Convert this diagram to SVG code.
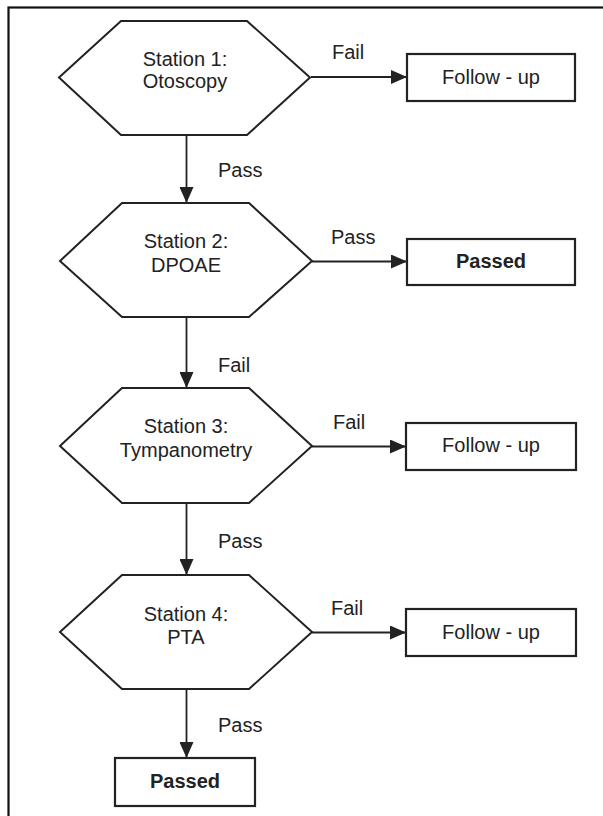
<svg xmlns="http://www.w3.org/2000/svg" width="603" height="816" viewBox="0 0 603 816">
<style>
.t{font-family:"Liberation Sans",Arial,sans-serif;font-size:20px;fill:#222}
.c{text-anchor:middle}
.b{font-weight:bold}
.hex{fill:#fff;stroke:#222;stroke-width:2}
.box{fill:#fff;stroke:#222;stroke-width:2.2}
.ln{fill:none;stroke:#222;stroke-width:1.8}
</style>
<defs>
<marker id="ah" markerUnits="userSpaceOnUse" markerWidth="16" markerHeight="14" refX="16" refY="7" orient="auto">
<path d="M0,0 L16,7 L0,14 Z" fill="#222"/>
</marker>
</defs>
<rect x="0" y="0" width="603" height="816" fill="#fff"/>
<rect id="frame" x="8.5" y="7.5" width="700" height="900" fill="none" stroke="#111" stroke-width="2.2"/>
<g id="connectors">
<line class="ln" x1="186.5" y1="135" x2="186.5" y2="203" marker-end="url(#ah)"/>
<line class="ln" x1="186.5" y1="317" x2="186.5" y2="388" marker-end="url(#ah)"/>
<line class="ln" x1="186.5" y1="503" x2="186.5" y2="575" marker-end="url(#ah)"/>
<line class="ln" x1="186.5" y1="689" x2="186.5" y2="758" marker-end="url(#ah)"/>
<line class="ln" x1="311" y1="77" x2="407" y2="77" marker-end="url(#ah)"/>
<line class="ln" x1="312" y1="261.5" x2="407" y2="261.5" marker-end="url(#ah)"/>
<line class="ln" x1="312" y1="446.5" x2="406" y2="446.5" marker-end="url(#ah)"/>
<line class="ln" x1="312" y1="632.5" x2="406" y2="632.5" marker-end="url(#ah)"/>
<text class="t" x="218" y="177">Pass</text>
<text class="t" x="218" y="372">Fail</text>
<text class="t" x="218" y="548">Pass</text>
<text class="t" x="218" y="732">Pass</text>
<text class="t" x="332" y="59">Fail</text>
<text class="t" x="331" y="244">Pass</text>
<text class="t" x="333" y="429">Fail</text>
<text class="t" x="331" y="615">Fail</text>
</g>
<g id="station1">
<polygon class="hex" points="59,77.5 121,21 247,21 310,77.5 247,135 121,135"/>
<text class="t c" x="185" y="66">Station 1:</text>
<text class="t c" x="185" y="88">Otoscopy</text>
</g>
<g id="station2">
<polygon class="hex" points="60,261 122,203 249,203 312,261 249,317 122,317"/>
<text class="t c" x="186" y="248">Station 2:</text>
<text class="t c" x="186" y="272">DPOAE</text>
</g>
<g id="station3">
<polygon class="hex" points="60,446 122,388 249,388 312,446 249,503 122,503"/>
<text class="t c" x="186" y="433">Station 3:</text>
<text class="t c" x="186" y="457">Tympanometry</text>
</g>
<g id="station4">
<polygon class="hex" points="60,632 122,575 249,575 312,632 249,689 122,689"/>
<text class="t c" x="186" y="621">Station 4:</text>
<text class="t c" x="186" y="644">PTA</text>
</g>
<g id="followup1">
<rect class="box" x="407" y="54" width="168" height="47"/>
<text class="t c" x="491" y="84">Follow - up</text>
</g>
<g id="passed1">
<rect class="box" x="407" y="239" width="168" height="46"/>
<text class="t c b" x="491" y="268">Passed</text>
</g>
<g id="followup2">
<rect class="box" x="406" y="423" width="170" height="47"/>
<text class="t c" x="491" y="452">Follow - up</text>
</g>
<g id="followup3">
<rect class="box" x="406" y="609" width="170" height="47"/>
<text class="t c" x="491" y="639">Follow - up</text>
</g>
<g id="passed2">
<rect class="box" x="115" y="758" width="140" height="48"/>
<text class="t c b" x="185" y="788">Passed</text>
</g>
</svg>
